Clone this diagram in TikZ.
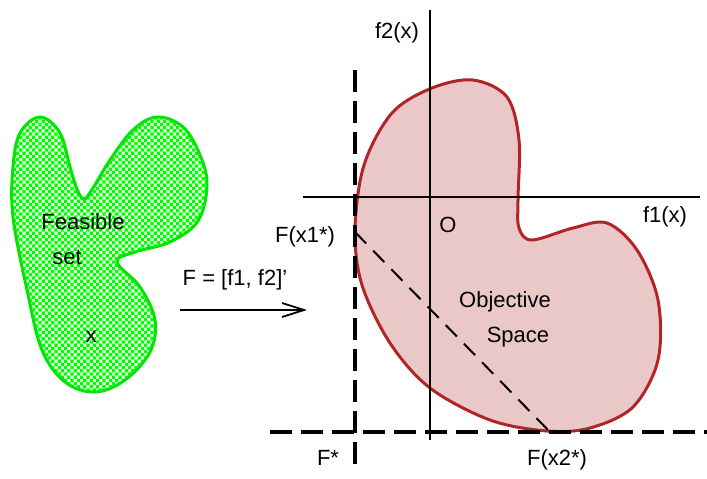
\documentclass[tikz,border=0pt]{standalone}
\usepackage{fontspec}
\setmainfont{Liberation Sans}
\usetikzlibrary{positioning,arrows.meta,patterns}
\definecolor{setgreen}{RGB}{0,255,0}
\definecolor{setline}{RGB}{0,230,0}
\definecolor{objred}{RGB}{178,36,40}
\definecolor{objpink}{RGB}{234,200,200}
\pgfdeclarepatternformonly{finechecker}{\pgfqpoint{-1pt}{-1pt}}{\pgfqpoint{4pt}{4pt}}{\pgfqpoint{3.2pt}{3.2pt}}{%
  \pgfpathrectangle{\pgfqpoint{0pt}{0pt}}{\pgfqpoint{1.6pt}{1.6pt}}%
  \pgfpathrectangle{\pgfqpoint{1.6pt}{1.6pt}}{\pgfqpoint{1.6pt}{1.6pt}}%
  \pgfusepath{fill}}
\tikzset{
  lbl/.style={font=\fontsize{11}{13}\selectfont,inner sep=1pt},
  axis/.style={line width=0.6pt,black},
  bound/.style={line width=2pt,black,dash pattern=on 11pt off 4.5pt},
  front/.style={line width=1pt,black,dash pattern=on 8pt off 5pt},
  arr/.style={-{Straight Barb[length=11pt,width=7pt,line width=0.9pt]},line width=0.8pt},
  feasset/.style={draw=setline,line width=1.5pt,pattern=finechecker,pattern color=setgreen},
  objspace/.style={draw=objred,line width=1.5pt,fill=objpink},
}
\begin{document}
\begin{tikzpicture}[x=0.5pt,y=-0.5pt]
  \useasboundingbox (0,0) rectangle (707,478);
  % feasible set
  \fill[green!8!white] plot[smooth cycle,tension=0.6] coordinates {(40,117) (60,133) (70,167) (77,189) (84,199) (93,188) (110,160) (133,130) (157,117) (183,127) (200,155) (207,185) (198,221) (170,242) (135,252) (117,262) (140,287) (155,320) (150,352) (125,380) (95,392) (65,382) (42,350) (27,290) (13,217) (13,167) (20,133)};
  \path[feasset] plot[smooth cycle,tension=0.6] coordinates {(40,117) (60,133) (70,167) (77,189) (84,199) (93,188) (110,160) (133,130) (157,117) (183,127) (200,155) (207,185) (198,221) (170,242) (135,252) (117,262) (140,287) (155,320) (150,352) (125,380) (95,392) (65,382) (42,350) (27,290) (13,217) (13,167) (20,133)};
  \node[lbl] (feas) at (83,222) {Feasible};
  \node[lbl] (set) at (67,257) {set};
  \node[lbl] (xvar) at (91,337) {x};
  % mapping
  \node[lbl] (map) at (235,280) {F = [f1, f2]'};
  \coordinate (mapa) at (180,310);
  \coordinate (mapb) at (307,310);
  \draw[arr] (mapa) -- (mapb);
  % objective space
  \path[objspace] plot[smooth cycle,tension=0.55] coordinates {(473,80) (507,97) (519,140) (518,200) (519,228) (532,240) (573,228) (607,223) (637,250) (658,300) (658,360) (633,407) (590,428) (547,431) (490,420) (430,388) (390,343) (362,285) (355,230) (364,165) (392,113) (432,88)};
  \node[lbl] (obj) at (505,302) {Objective};
  \node[lbl] (spc) at (518,337) {Space};
  % axes
  \coordinate (ytop) at (430,10);
  \coordinate (ybot) at (430,440);
  \coordinate (xlft) at (303,197);
  \coordinate (xrgt) at (700,197);
  \draw[axis] (ybot) -- (ytop);
  \draw[axis] (xlft) -- (xrgt);
  \node[lbl] (f2) at (397,33) {f2(x)};
  \node[lbl] (f1) at (665,217) {f1(x)};
  \node[lbl] (orig) at (448,225) {O};
  % ideal point bounds
  \coordinate (vtop) at (355,70);
  \coordinate (vbot) at (355,466);
  \coordinate (hlft) at (270,432);
  \coordinate (hrgt) at (707,432);
  \draw[bound] (vtop) -- (vbot);
  \draw[bound] (hlft) -- (hrgt);
  \coordinate (fx1) at (355,232);
  \coordinate (fx2) at (550,432);
  \draw[front] (fx1) -- (fx2);
  \node[lbl] (fx1lbl) at (305,237) {F(x1*)};
  \node[lbl] (fstar) at (328,458) {F*};
  \node[lbl] (fx2lbl) at (557,460) {F(x2*)};
\end{tikzpicture}
\end{document}
